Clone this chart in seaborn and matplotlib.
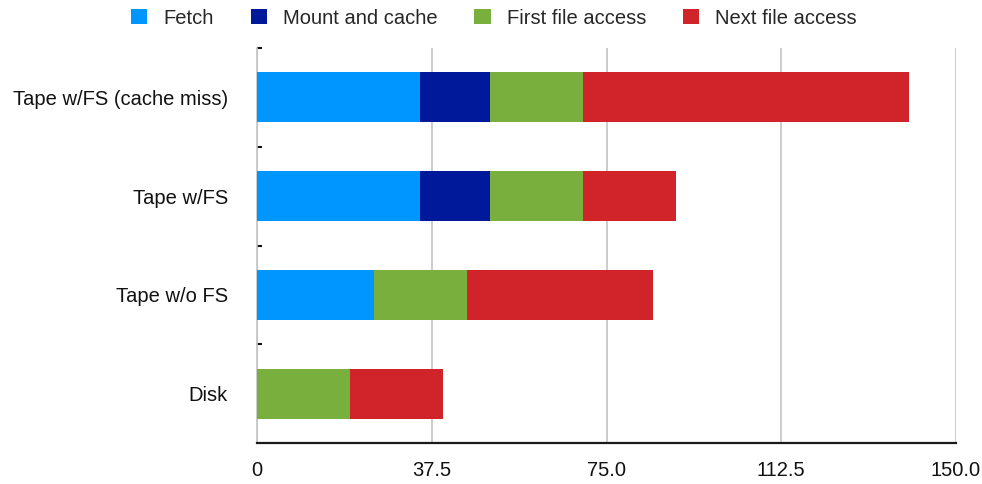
import matplotlib
matplotlib.use("Agg")
import matplotlib.pyplot as plt
from matplotlib.patches import Patch
from matplotlib.ticker import FixedLocator
import seaborn as sns
import pandas as pd
import numpy as np

categories = ["Tape w/FS (cache miss)", "Tape w/FS", "Tape w/o FS", "Disk"]
series_names = ["Fetch", "Mount and cache", "First file access", "Next file access"]
fetch = [35, 35, 25, 0]
mount_cache = [15, 15, 0, 0]
first_access = [20, 20, 20, 20]
next_access = [70, 20, 40, 20]
x_ticks = [0, 37.5, 75.0, 112.5, 150.0]
x_tick_labels = ["0", "37.5", "75.0", "112.5", "150.0"]

colors = ["#0096FF", "#00199A", "#79AF3C", "#D1232A"]

sns.set_theme(style="white")
plt.rcParams["font.family"] = ["Liberation Sans", "DejaVu Sans"]

df = pd.DataFrame({
    "category": categories,
    "Fetch": fetch,
    "Mount and cache": mount_cache,
    "First file access": first_access,
    "Next file access": next_access,
})
cum = df[series_names].cumsum(axis=1)

fig = plt.figure(figsize=(9.82, 4.84), dpi=100)
ax = fig.add_axes([257 / 982, 1 - 443 / 484, (956 - 257) / 982, (443 - 48) / 484])

# stacked bars: draw cumulative totals from the outermost segment inward
for name, color in reversed(list(zip(series_names, colors))):
    sns.barplot(data=cum.assign(category=categories), x=name, y="category",
                orient="h", color=color, width=0.505, saturation=1,
                linewidth=0, edgecolor="none", ax=ax, zorder=3)

ax.set_xlim(0, 150)
ax.set_ylim(3.5, -0.5)
ax.set_xlabel("")
ax.set_ylabel("")
ax.set_xticks(x_ticks)
ax.set_xticklabels(x_tick_labels)
ax.grid(axis="x", color="#C4C4C4", linewidth=1.2, zorder=0)
ax.grid(axis="y", visible=False)

for side in ["top", "right"]:
    ax.spines[side].set_visible(False)
ax.spines["left"].set_color("#C4C4C4")
ax.spines["left"].set_linewidth(1.2)
ax.spines["bottom"].set_color("#1a1a1a")
ax.spines["bottom"].set_linewidth(1.6)

ax.tick_params(axis="x", length=0, pad=13, labelsize=14.5, labelcolor="#111111")
ax.tick_params(axis="y", which="major", length=0, pad=21, labelsize=14.5, labelcolor="#111111")
ax.yaxis.set_minor_locator(FixedLocator([-0.5, 0.5, 1.5, 2.5]))
ax.tick_params(axis="y", which="minor", direction="in", length=3.5, width=1.5,
               color="#111111", left=True)

handles = [Patch(facecolor=c, edgecolor="none") for c in colors]
fig.legend(handles, series_names, loc="center", bbox_to_anchor=(0.503, 1 - 18 / 484),
           ncol=4, frameon=False, fontsize=14.5, handlelength=0.8, handleheight=0.8,
           handletextpad=0.8, columnspacing=1.84)

fig.savefig("out.png", dpi=100)
